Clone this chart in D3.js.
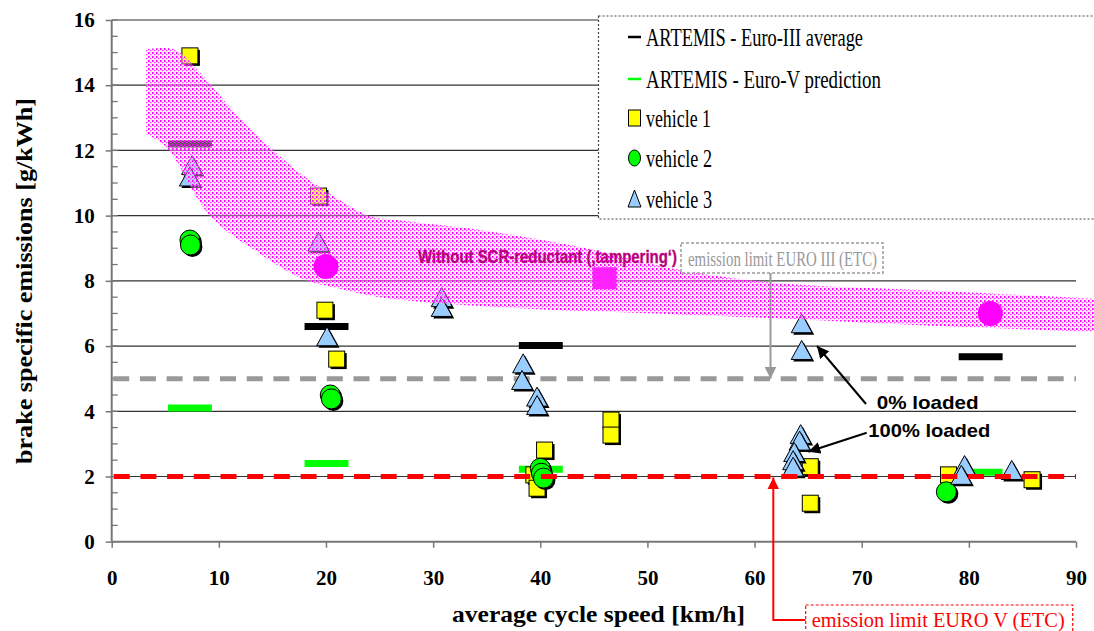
<!DOCTYPE html>
<html><head><meta charset="utf-8">
<script src="https://cdn.jsdelivr.net/npm/d3@7"></script>
<style>body{margin:0;background:#fff}svg{display:block}</style>
</head><body>
<svg id="c" width="1094" height="631"></svg>
<script>
// ---------- data ----------
const xTicks = [0,10,20,30,40,50,60,70,80,90];
const yTicks = [0,2,4,6,8,10,12,14,16];
const yMinor = d3.range(0,16.01,0.5);

const artemisSpeed = [7.3, 20.05, 40.05, 81.1];
const euro3Average = [12.2, 6.6, 6.02, 5.67];
const euro5Prediction = [4.1, 2.4, 2.22, 2.13];
const artemisHalfWidth = 2.05;

const v1Speed = [7.3, 19.3, 19.9, 21.0, 39.4, 39.7, 40.4, 46.6, 46.6, 65.2, 65.2, 78.1, 85.9];
const v1Value = [14.9, 10.6, 7.1, 5.6, 2.05, 1.64, 2.81, 3.73, 3.27, 2.3, 1.18, 2.05, 1.9];

const v2Speed = [7.3, 7.35, 20.4, 20.5, 40.0, 40.1, 40.3, 77.9];
const v2Value = [9.25, 9.1, 4.5, 4.38, 2.25, 2.1, 1.95, 1.53];

const v3Speed = [7.5, 7.3, 19.3, 20.1, 30.8, 30.8, 38.4, 38.3, 39.7, 39.7, 64.4, 64.4, 64.3, 64.2, 63.7, 63.6, 63.6, 79.6, 79.3, 84.0];
const v3Value = [11.55, 11.2, 9.2, 6.3, 7.5, 7.2, 5.47, 4.96, 4.45, 4.19, 6.7, 5.88, 3.3, 3.1, 2.75, 2.5, 2.3, 2.35, 2.05, 2.2];

const tamperCircleSpeed = [20.0, 82.0];
const tamperCircleValue = [8.44, 7.0];
const tamperSquareSpeed = [46.0];
const tamperSquareValue = [8.08];

const euro3Limit = 5;
const euro5Limit = 2;

const bandUpper = [[3.2,15.1],[5.8,15.1],[8.2,14.4],[11.4,13.2],[15.1,12.0],[17.6,11.3],[20.7,10.6],[24,10.0],[27,9.85],[34.4,9.56],[43.7,9.04],[53,8.33],[62.4,7.93],[75.4,7.72],[95,7.4]];
const bandLower = [[95,6.4],[75.4,6.64],[61.4,6.86],[50,7.01],[37.5,7.17],[25,7.5],[20.7,7.8],[17.9,8.05],[13.8,8.84],[9.17,10.0],[5.1,12.1],[3.2,12.5]];

const legendLabels = ["ARTEMIS - Euro-III average","ARTEMIS - Euro-V prediction","vehicle 1","vehicle 2","vehicle 3"];

// ---------- drawing ----------
const svg = d3.select("#c");
const x = d3.scaleLinear().domain([0,90]).range([111.7,1076]);
const y = d3.scaleLinear().domain([0,16]).range([541.7,20]);
const serif = "'Liberation Serif','Times New Roman',serif";
const sans = "'Liberation Sans',Arial,sans-serif";

const defs = svg.append("defs");
const pat = defs.append("pattern").attr("id","dots").attr("width",4).attr("height",4).attr("patternUnits","userSpaceOnUse");
pat.append("rect").attr("width",4).attr("height",4).attr("fill","rgba(255,205,250,0.4)");
pat.append("rect").attr("x",0).attr("y",0).attr("width",1.6).attr("height",2).attr("fill","#ff00ff");
pat.append("rect").attr("x",2).attr("y",2).attr("width",1.4).attr("height",1.2).attr("fill","#ff33ff");
function arrowMarker(id,color){
  defs.append("marker").attr("id",id).attr("viewBox","0 0 10 10").attr("refX",10).attr("refY",5)
    .attr("markerWidth",12).attr("markerHeight",12).attr("markerUnits","userSpaceOnUse").attr("orient","auto")
    .append("path").attr("d","M0,0L10,5L0,10Z").attr("fill",color);
}
arrowMarker("ablack","#000");arrowMarker("agray","#999");arrowMarker("ared","#ff0000");

// gridlines
svg.append("g").selectAll("line").data(yTicks.filter(d=>d>0)).join("line")
  .attr("x1",x(0)).attr("x2",x(90)).attr("y1",d=>y(d)).attr("y2",d=>y(d))
  .attr("stroke","#333").attr("stroke-width",1.2);

// axes
const yAxis = svg.append("g").attr("transform",`translate(${x(0)},0)`)
  .call(d3.axisLeft(y).tickValues(yTicks).tickSize(6).tickPadding(11).tickFormat(d3.format("d")));
const xAxis = svg.append("g").attr("transform",`translate(0,${y(0)})`)
  .call(d3.axisBottom(x).tickValues(xTicks).tickSize(6).tickPadding(22).tickFormat(d3.format("d")));
[yAxis,xAxis].forEach(a=>{
  a.select(".domain").attr("stroke","#777").attr("stroke-width",2);
  a.selectAll(".tick line").attr("stroke","#777").attr("stroke-width",1.5);
  a.selectAll("text").attr("font-family",serif).attr("font-weight","bold").attr("font-size",21).attr("fill","#000");
});
xAxis.select(".domain").attr("d",`M${x(0)},0H${x(90)}`);
yAxis.select(".domain").attr("d",`M0,${y(0)}V${y(16)}`);
svg.append("g").selectAll("line").data(yMinor).join("line")
  .attr("x1",x(0)).attr("x2",x(0)+6).attr("y1",d=>y(d)).attr("y2",d=>y(d))
  .attr("stroke","#777").attr("stroke-width",1.3);

// Euro III limit (gray dashed)
svg.append("line").attr("x1",x(0)+1.5).attr("x2",x(90)).attr("y1",y(euro3Limit)).attr("y2",y(euro3Limit))
  .attr("stroke","#999").attr("stroke-width",5).attr("stroke-dasharray","16,10.7");

// ARTEMIS bars
const bars = (vals,color)=>svg.append("g").selectAll("line").data(artemisSpeed).join("line")
  .attr("x1",d=>x(d-artemisHalfWidth)).attr("x2",d=>x(d+artemisHalfWidth))
  .attr("y1",(d,i)=>y(vals[i])).attr("y2",(d,i)=>y(vals[i]))
  .attr("stroke",color).attr("stroke-width",7);
bars(euro5Prediction,"#00ff00");
bars(euro3Average,"#000");

// vehicle markers with drop shadows
const sq = 16, rc = 10, tw = 21, th = 19;
function squares(sx,sy,fill){
  const g = svg.append("g");
  sx.forEach((s,i)=>{
    const cx=x(s), cy=y(sy[i]);
    g.append("rect").attr("x",cx-sq/2+2).attr("y",cy-sq/2+2).attr("width",sq).attr("height",sq).attr("fill","#000");
    g.append("rect").attr("x",cx-sq/2).attr("y",cy-sq/2).attr("width",sq).attr("height",sq).attr("fill",fill).attr("stroke","#000").attr("stroke-width",1);
  });
}
function circles(sx,sy,fill){
  const g = svg.append("g");
  sx.forEach((s,i)=>{
    const cx=x(s), cy=y(sy[i]);
    g.append("circle").attr("cx",cx+2).attr("cy",cy+2).attr("r",rc).attr("fill","#000");
    g.append("circle").attr("cx",cx).attr("cy",cy).attr("r",rc).attr("fill",fill).attr("stroke","#000").attr("stroke-width",1);
  });
}
function triangles(sx,sy,fill){
  const g = svg.append("g");
  const tri=(cx,cy)=>`M${cx},${cy-th/2}L${cx+tw/2},${cy+th/2}L${cx-tw/2},${cy+th/2}Z`;
  sx.forEach((s,i)=>{
    const cx=x(s), cy=y(sy[i]);
    g.append("path").attr("d",tri(cx+2,cy+2)).attr("fill","#000");
    g.append("path").attr("d",tri(cx,cy)).attr("fill",fill).attr("stroke","#000").attr("stroke-width",1);
  });
}
squares(v1Speed,v1Value,"#ffff00");
circles(v2Speed,v2Value,"#00ff00");
triangles(v3Speed,v3Value,"#99ccff");

// Euro V limit (red dashed)
svg.append("line").attr("x1",x(0)+2).attr("x2",x(90)).attr("y1",y(euro5Limit)).attr("y2",y(euro5Limit))
  .attr("stroke","#ff0000").attr("stroke-width",5).attr("stroke-dasharray","16,10.7");

// tampering band
const edge = d3.line().x(d=>x(d[0])).y(d=>y(d[1])).curve(d3.curveCatmullRom.alpha(0.5));
const bandPath = edge(bandUpper) + "L" + edge(bandLower).slice(1) + "Z";
svg.append("path").attr("d",bandPath).attr("fill","url(#dots)");
svg.append("g").selectAll("circle").data(tamperCircleSpeed).join("circle")
  .attr("cx",d=>x(d)).attr("cy",(d,i)=>y(tamperCircleValue[i])).attr("r",12.5).attr("fill","#ff00ff");
svg.append("g").selectAll("rect").data(tamperSquareSpeed).join("rect")
  .attr("x",d=>x(d)-12).attr("y",(d,i)=>y(tamperSquareValue[i])-11).attr("width",24).attr("height",22).attr("fill","#ff22ff");

// annotations
svg.append("text").attr("transform","translate(418,263) scale(1,1.15)").attr("font-family",sans).attr("font-weight","bold").attr("font-size",15.5)
  .attr("fill","#b8007a").attr("stroke","#b8007a").attr("stroke-width",0.3)
  .attr("textLength",259).attr("lengthAdjust","spacingAndGlyphs").text("Without SCR-reductant (‚tampering‘)");

svg.append("rect").attr("x",681).attr("y",243).attr("width",202).attr("height",30).attr("fill","#fff")
  .attr("stroke","#999").attr("stroke-width",1.5).attr("stroke-dasharray","3,2");
svg.append("text").attr("x",688).attr("y",266).attr("font-family",serif).attr("font-size",22).attr("fill","#999")
  .attr("textLength",189).attr("lengthAdjust","spacingAndGlyphs").text("emission limit EURO III (ETC)");
svg.append("line").attr("x1",770.5).attr("x2",770.5).attr("y1",273).attr("y2",y(euro3Limit))
  .attr("stroke","#999").attr("stroke-width",2).attr("marker-end","url(#agray)");

svg.append("line").attr("x1",866).attr("y1",404).attr("x2",817).attr("y2",346)
  .attr("stroke","#000").attr("stroke-width",2).attr("marker-end","url(#ablack)");
svg.append("text").attr("x",876.7).attr("y",409).attr("font-family",sans).attr("font-weight","bold").attr("font-size",19)
  .attr("textLength",102).attr("lengthAdjust","spacingAndGlyphs").text("0% loaded");
svg.append("line").attr("x1",866.7).attr("y1",432.7).attr("x2",808.3).attr("y2",451.7)
  .attr("stroke","#000").attr("stroke-width",2).attr("marker-end","url(#ablack)");
svg.append("text").attr("x",868.3).attr("y",437).attr("font-family",sans).attr("font-weight","bold").attr("font-size",19)
  .attr("textLength",122).attr("lengthAdjust","spacingAndGlyphs").text("100% loaded");

svg.append("path").attr("d",`M805.7,620H773.3V${y(euro5Limit)+1}`).attr("fill","none")
  .attr("stroke","#ff0000").attr("stroke-width",2).attr("marker-end","url(#ared)");
svg.append("rect").attr("x",805.7).attr("y",605).attr("width",267).attr("height",40).attr("fill","#fff")
  .attr("stroke","#ff0000").attr("stroke-width",1.2).attr("stroke-dasharray","3,2");
svg.append("text").attr("x",811.7).attr("y",627).attr("font-family",serif).attr("font-size",22).attr("fill","#ff0000")
  .attr("textLength",253).attr("lengthAdjust","spacingAndGlyphs").text("emission limit EURO V (ETC)");

// axis titles
svg.append("text").attr("transform",`translate(32,${281}) rotate(-90)`).attr("text-anchor","middle")
  .attr("font-family",serif).attr("font-weight","bold").attr("font-size",24)
  .attr("textLength",366).attr("lengthAdjust","spacingAndGlyphs").text("brake specific emissions [g/kWh]");
svg.append("text").attr("x",598.5).attr("y",622).attr("text-anchor","middle")
  .attr("font-family",serif).attr("font-weight","bold").attr("font-size",24)
  .attr("textLength",293).attr("lengthAdjust","spacingAndGlyphs").text("average cycle speed [km/h]");

// legend
const lg = svg.append("g");
lg.append("rect").attr("x",598.5).attr("y",16).attr("width",520).attr("height",203).attr("fill","#fff")
  .attr("stroke","#444").attr("stroke-width",1.2).attr("stroke-dasharray","2,2");
const rowY = [37,79,118,158,199];
const legWidths = [217,235,65,66,66];
lg.selectAll("text").data(legendLabels).join("text")
  .attr("x",646).attr("y",(d,i)=>rowY[i]+9).attr("font-family",serif).attr("font-size",26)
  .attr("textLength",(d,i)=>legWidths[i]).attr("lengthAdjust","spacingAndGlyphs").text(d=>d);
lg.append("line").attr("x1",628).attr("x2",641).attr("y1",rowY[0]).attr("y2",rowY[0]).attr("stroke","#000").attr("stroke-width",2.5);
lg.append("line").attr("x1",628).attr("x2",641).attr("y1",rowY[1]).attr("y2",rowY[1]).attr("stroke","#00ff00").attr("stroke-width",2.5);
lg.append("rect").attr("x",628.5).attr("y",rowY[2]-8).attr("width",12).attr("height",16).attr("fill","#ffff00").attr("stroke","#000");
lg.append("ellipse").attr("cx",634.5).attr("cy",rowY[3]).attr("rx",6).attr("ry",8).attr("fill","#00ff00").attr("stroke","#000");
lg.append("path").attr("d",`M634.5,${rowY[4]-9}L641,${rowY[4]+8}L628,${rowY[4]+8}Z`).attr("fill","#99ccff").attr("stroke","#000");
</script>
</body></html>
